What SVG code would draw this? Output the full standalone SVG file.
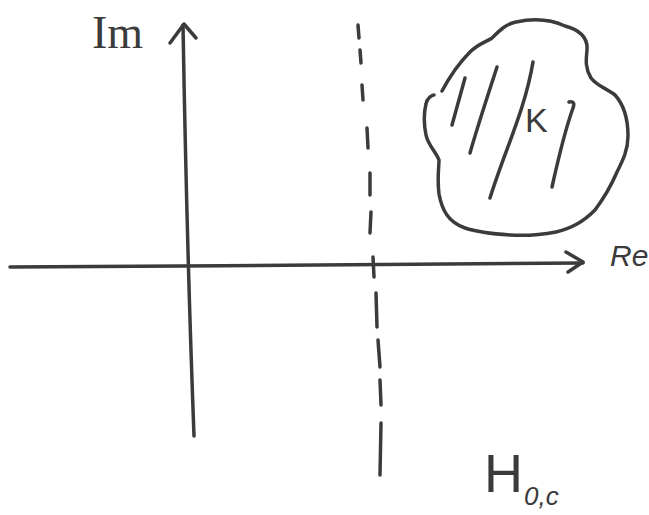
<svg xmlns="http://www.w3.org/2000/svg" width="649" height="515" viewBox="0 0 649 515">
<style>
.s{fill:none;stroke:#3b3b3b;stroke-width:3.5;stroke-linecap:round;stroke-linejoin:round}
.t{font-family:"Liberation Sans",Arial,sans-serif;fill:#3b3b3b}
</style>
<rect width="649" height="515" fill="#fff"/>
<g id="connectors">
<path id="im-axis" class="s" d="M194,436 C190,330 186,200 183,25"/>
<path class="s" d="M170,43 L184,24 L196,38"/>
<path id="re-axis" class="s" d="M10,267 C200,266 400,265 583,263"/>
<path class="s" d="M566,252 L583,262 L568,272"/>
<g id="dashed" class="s">
<path d="M358,25 L359,38"/><path d="M360,50 L361,63"/><path d="M362,85 L363,100"/>
<path d="M367,128 L368,148"/><path d="M370,173 L370,195"/><path d="M371,212 L370,233"/>
<path d="M373,257 L374,277"/><path d="M376,293 L377,327"/><path d="M378,340 L380,367"/>
<path d="M380,380 L381,405"/><path d="M381,423 L380,475"/>
</g>
</g>
<g id="K">
<path class="s" d="M442,91 C450,76 460,62 470,52 C478,44 486,42 492,38 C500,30 506,24 516,22 C535,18 552,20 565,26 C580,30 588,38 587,50 C586,60 585,68 591,78 C597,86 606,88 615,95 C624,105 628,118 628,136 C628,150 623,160 617,172 C611,186 604,198 595,210 C583,222 572,228 556,232 C540,235 525,236 510,235 C495,234 480,233 465,228 C448,222 442,210 439,194 C437,178 439,168 439,160 C436,152 428,145 426,135 C424,125 424,112 426,104 C427,98 432,95 434,95"/>
<path class="s" d="M465,78 L452,125"/>
<path class="s" d="M497,67 C488,95 478,125 470,153"/>
<path class="s" d="M533,62 C525,110 505,150 490,198"/>
<path class="s" d="M569,102 C573,101 575,103 573,108 C565,130 558,160 552,187"/>
<text class="t" x="525" y="132" font-size="34">K</text>
</g>
<g id="labels">
<text x="92" y="48" font-size="46" fill="#3b3b3b" font-family="'Liberation Serif','Times New Roman',serif">Im</text>
<text class="t" x="610" y="266" font-size="30" font-style="italic">Re</text>
<text class="t" x="484" y="492" font-size="54">H</text>
<text class="t" x="524" y="505" font-size="26" font-style="italic">0,c</text>
</g>
</svg>
